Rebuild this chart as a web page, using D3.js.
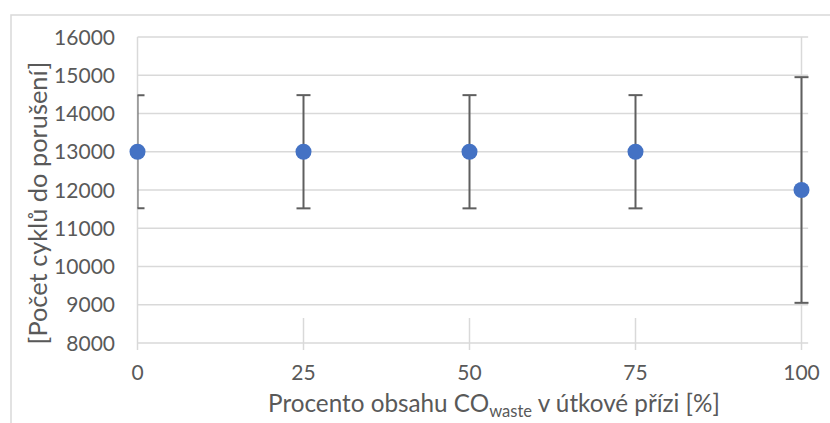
<!DOCTYPE html>
<html>
<head>
<meta charset="utf-8">
<script src="https://cdn.jsdelivr.net/npm/d3@7"></script>
<style>
html,body{margin:0;padding:0;background:#fff;}
svg{display:block;}
text{font-family:Lato,"Open Sans",sans-serif;fill:#595959;}
</style>
</head>
<body>
<svg id="chart" width="830" height="423"></svg>
<script>
const xValues = [0, 25, 50, 75, 100];
const means = [13000, 13000, 13000, 13000, 12000];
const errors = [1480, 1480, 1480, 1480, 2950];
const yTicks = [8000, 9000, 10000, 11000, 12000, 13000, 14000, 15000, 16000];
const xTicks = [0, 25, 50, 75, 100];
const yTitle = "[Počet cyklů do porušení]";

const svg = d3.select("#chart");
const x = d3.scaleLinear().domain([0, 100]).range([137.5, 801.5]);
const y = d3.scaleLinear().domain([8000, 16000]).range([343, 37]);
const plotRight = x(101);

// outer border
svg.append("rect").attr("x", 11).attr("y", 15).attr("width", 840).attr("height", 430)
  .attr("fill", "none").attr("stroke", "#d9d9d9").attr("stroke-width", 1.5);

// horizontal gridlines
svg.append("g").selectAll("line").data(yTicks).join("line")
  .attr("x1", x(0)).attr("x2", plotRight)
  .attr("y1", d => y(d)).attr("y2", d => y(d))
  .attr("stroke", "#d9d9d9").attr("stroke-width", 1.5);

// vertical axis lines / ticks
svg.append("g").selectAll("line").data([0, 100]).join("line")
  .attr("x1", d => x(d)).attr("x2", d => x(d))
  .attr("y1", y(16000)).attr("y2", y(8000) + 7)
  .attr("stroke", "#d9d9d9").attr("stroke-width", 1.5);
svg.append("g").selectAll("line").data([25, 50, 75]).join("line")
  .attr("x1", d => x(d)).attr("x2", d => x(d))
  .attr("y1", y(8000) - 25).attr("y2", y(8000) + 7)
  .attr("stroke", "#d9d9d9").attr("stroke-width", 1.5);

// y tick labels
svg.append("g").selectAll("text").data(yTicks).join("text")
  .attr("x", 115).attr("y", d => y(d)).attr("dy", "0.36em")
  .attr("text-anchor", "end").attr("font-size", 21).text(d => d);

// x tick labels
svg.append("g").selectAll("text").data(xTicks).join("text")
  .attr("x", d => x(d)).attr("y", 380)
  .attr("text-anchor", "middle").attr("font-size", 21).text(d => d);

// x title
const xt = svg.append("text").attr("x", 494).attr("y", 412)
  .attr("text-anchor", "middle").attr("font-size", 22);
xt.append("tspan").text("Procento obsahu CO");
xt.append("tspan").attr("font-size", 15).attr("dy", 5).text("waste");
xt.append("tspan").attr("dy", -5).text(" v útkové přízi [%]");
{
  const w = xt.node().getComputedTextLength();
  const s = 452 / w;
  xt.attr("font-size", 22 * s);
  xt.selectAll("tspan").filter((d, i) => i === 1).attr("font-size", 15 * s);
}

// y title
const yt = svg.append("text").attr("transform", `translate(47,203) rotate(-90)`)
  .attr("text-anchor", "middle").attr("font-size", 22).text(yTitle);
{
  const w = yt.node().getComputedTextLength();
  yt.attr("font-size", 22 * 283 / w);
}

// clip
svg.append("clipPath").attr("id", "clip").append("rect")
  .attr("x", x(0)).attr("y", 0).attr("width", 700).attr("height", 423);

const data = xValues.map((v, i) => ({x: v, m: means[i], e: errors[i]}));
const eb = svg.append("g").attr("clip-path", "url(#clip)")
  .attr("stroke", "#5f5f5f").attr("stroke-width", 2);
eb.selectAll(".v").data(data).join("line")
  .attr("x1", d => x(d.x)).attr("x2", d => x(d.x))
  .attr("y1", d => y(d.m + d.e)).attr("y2", d => y(d.m - d.e));
eb.selectAll(".t").data(data).join("line")
  .attr("x1", d => x(d.x) - 7).attr("x2", d => x(d.x) + 7)
  .attr("y1", d => y(d.m + d.e)).attr("y2", d => y(d.m + d.e));
eb.selectAll(".b").data(data).join("line")
  .attr("x1", d => x(d.x) - 7).attr("x2", d => x(d.x) + 7)
  .attr("y1", d => y(d.m - d.e)).attr("y2", d => y(d.m - d.e));

svg.append("g").selectAll("circle").data(data).join("circle")
  .attr("cx", d => x(d.x)).attr("cy", d => y(d.m)).attr("r", 8)
  .attr("fill", "#4472C4");
</script>
</body>
</html>
